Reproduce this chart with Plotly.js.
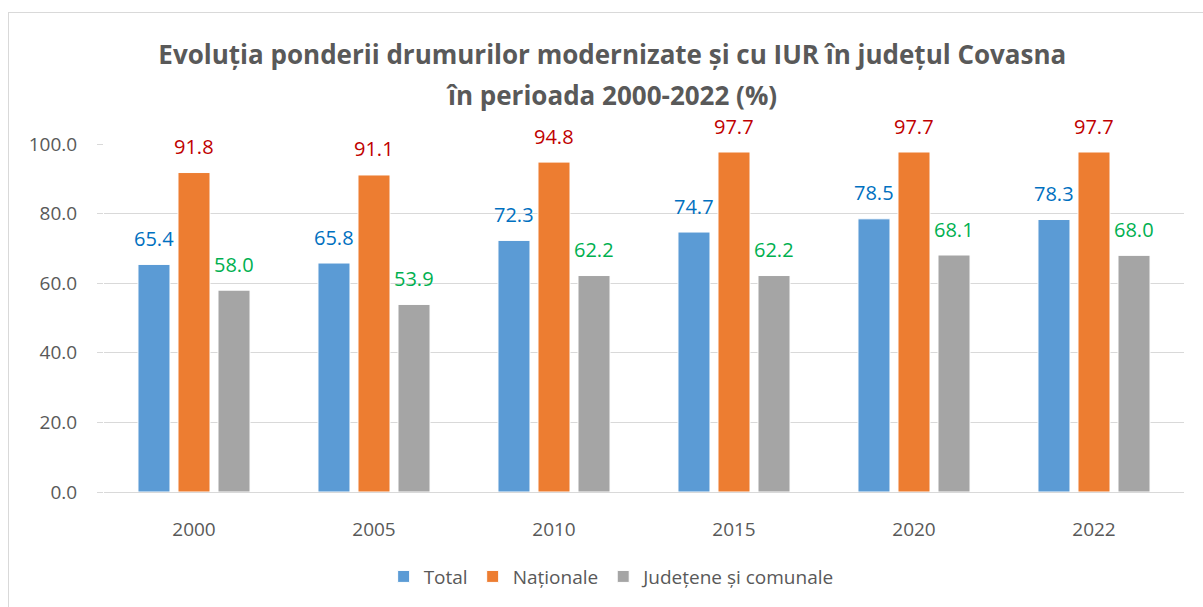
<!DOCTYPE html>
<html>
<head>
<meta charset="utf-8">
<script src="https://cdn.plot.ly/plotly-3.0.1.min.js"></script>
<style>
  body { margin: 0; background: #fff; overflow: hidden; }
  #frame { position: absolute; left: 8px; top: 12px; width: 1200px; height: 600px; border: 1px solid #d9d9d9; }
  #chart { position: absolute; left: 0; top: 0; width: 1203px; height: 607px; }
</style>
</head>
<body>
<div id="frame"></div>
<div id="chart"></div>
<script>
var years = ['2000', '2005', '2010', '2015', '2020', '2022'];
var total = [65.4, 65.8, 72.3, 74.7, 78.5, 78.3];
var nationale = [91.8, 91.1, 94.8, 97.7, 97.7, 97.7];
var judetene = [58.0, 53.9, 62.2, 62.2, 68.1, 68.0];

var names = ['Total', 'Naționale', 'Județene și comunale'];
var barColors = ['#5B9BD5', '#ED7D31', '#A5A5A5'];
var labelColors = ['#0070C0', '#C00000', '#00B050'];
var series = [total, nationale, judetene];
var fontFam = '"Open Sans", "Liberation Sans", sans-serif';

var data = [];
var annotations = [];
series.forEach(function (vals, i) {
    data.push({
        type: 'bar',
        x: years,
        y: vals,
        name: names[i],
        marker: { color: barColors[i], line: { color: '#ffffff', width: 1 } },
        hoverinfo: 'skip'
    });
    // value labels above each bar (category index, since numeric-looking strings break annotations)
    vals.forEach(function (v, j) {
        annotations.push({
            x: j,
            y: v,
            xref: 'x',
            yref: 'y',
            text: v.toFixed(1),
            showarrow: false,
            xshift: (i - 1) * 40,
            yshift: 26,
            yanchor: 'middle',
            font: { family: fontFam, size: 20, color: labelColors[i] }
        });
    });
});

// second title line, Excel puts more space between the lines
annotations.push({
    x: 0.47,
    y: 1.14,
    xref: 'paper',
    yref: 'paper',
    text: '<b>în perioada 2000-2022 (%)</b>',
    showarrow: false,
    xanchor: 'center',
    yanchor: 'middle',
    font: { family: fontFam, size: 26, color: '#595959' }
});

var layout = {
    width: 1203,
    height: 607,
    paper_bgcolor: 'rgba(0,0,0,0)',
    plot_bgcolor: 'rgba(0,0,0,0)',
    margin: { l: 104, r: 19, t: 144, b: 113 },
    font: { family: fontFam, color: '#595959', size: 19 },
    title: {
        text: '<b>Evoluția ponderii drumurilor modernizate și cu IUR în județul Covasna</b>',
        x: 0.509,
        xanchor: 'center',
        y: 0.909,
        yanchor: 'middle',
        font: { family: fontFam, size: 26, color: '#595959' }
    },
    barmode: 'group',
    bargap: 0.333,
    bargroupgap: 0.2,
    xaxis: {
        type: 'category',
        showgrid: false,
        showline: true,
        linecolor: '#d9d9d9',
        linewidth: 1,
        ticks: '',
        tickfont: { size: 19, color: '#595959' },
        ticklabelstandoff: 20
    },
    yaxis: {
        range: [0, 100],
        dtick: 20,
        tickformat: '.1f',
        showgrid: true,
        gridcolor: '#d9d9d9',
        gridwidth: 1,
        zeroline: false,
        ticks: 'outside',
        ticklen: 6,
        tickcolor: '#d9d9d9',
        tickfont: { size: 19, color: '#595959' },
        ticklabelstandoff: 16
    },
    showlegend: true,
    legend: {
        orientation: 'h',
        x: 0.4705,
        xanchor: 'center',
        y: -0.243,
        yanchor: 'middle',
        font: { size: 19, color: '#595959' }
    },
    annotations: annotations
};

Plotly.newPlot('chart', data, layout, { staticPlot: true });
</script>
</body>
</html>
